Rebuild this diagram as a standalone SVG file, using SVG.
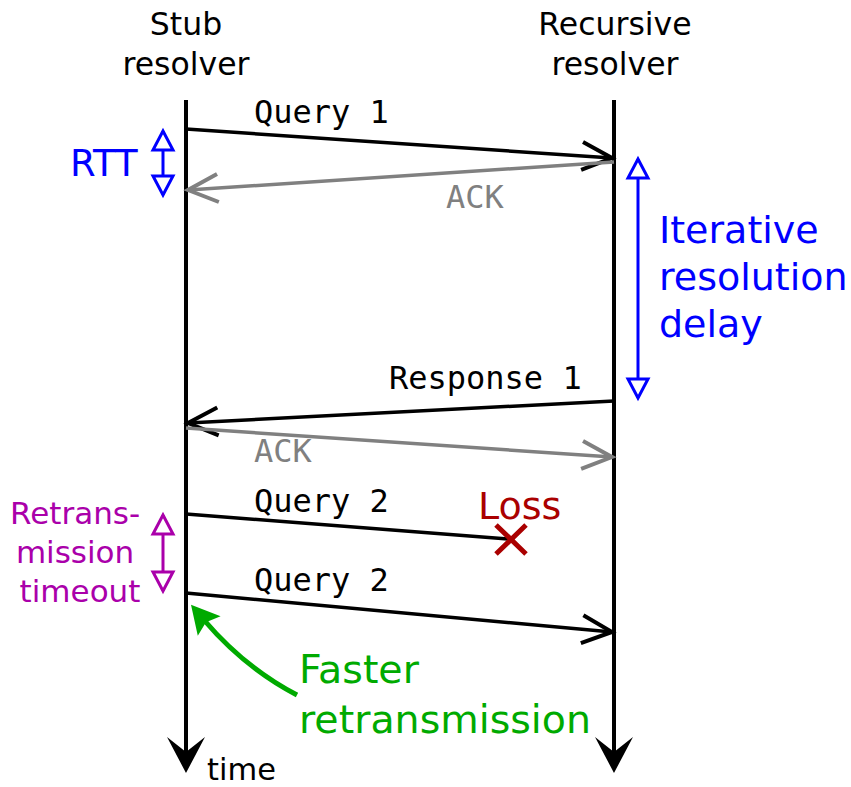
<svg xmlns="http://www.w3.org/2000/svg" width="851" height="787" viewBox="0 0 851 787">
  <style>
    .sans { font-family: "DejaVu Sans", "Liberation Sans", sans-serif; }
    .mono { font-family: "DejaVu Sans Mono", "Liberation Mono", monospace; font-size: 32px; }
    .head { font-size: 31.5px; fill: #000; text-anchor: middle; }
    .life { stroke: #000; stroke-width: 4; fill: none; }
    .msg { stroke: #000; stroke-width: 3.5; fill: none; marker-end: url(#openBlack); }
    .ack { stroke: #808080; stroke-width: 3.5; fill: none; marker-end: url(#openGrey); }
    .span { stroke-width: 3; fill: none; }
  </style>
  <defs>
    <marker id="openBlack" markerUnits="userSpaceOnUse" viewBox="-34 -18 38 36" markerWidth="38" markerHeight="36" refX="0" refY="0" orient="auto" overflow="visible">
      <path d="M-30 -14 L0 0 L-30 14" fill="none" stroke="#000" stroke-width="4"/>
    </marker>
    <marker id="openGrey" markerUnits="userSpaceOnUse" viewBox="-34 -18 38 36" markerWidth="38" markerHeight="36" refX="0" refY="0" orient="auto" overflow="visible">
      <path d="M-30 -14 L0 0 L-30 14" fill="none" stroke="#808080" stroke-width="4"/>
    </marker>
    <marker id="timeHead" markerUnits="userSpaceOnUse" viewBox="-20 -22 44 44" markerWidth="44" markerHeight="44" refX="0" refY="0" orient="auto" overflow="visible">
      <path d="M21 0 L-15 -19 L0 0 L-15 19 Z" fill="#000"/>
    </marker>
    <marker id="triBlue" markerUnits="userSpaceOnUse" viewBox="-22 -13 25 26" markerWidth="25" markerHeight="26" refX="0" refY="0" orient="auto-start-reverse" overflow="visible">
      <path d="M0 0 L-19 -10 L-19 10 Z" fill="#fff" stroke="#0000ff" stroke-width="3" stroke-linejoin="miter"/>
    </marker>
    <marker id="triPurple" markerUnits="userSpaceOnUse" viewBox="-22 -13 25 26" markerWidth="25" markerHeight="26" refX="0" refY="0" orient="auto-start-reverse" overflow="visible">
      <path d="M0 0 L-19 -10 L-19 10 Z" fill="#fff" stroke="#aa00aa" stroke-width="3" stroke-linejoin="miter"/>
    </marker>
    <marker id="greenHead" markerUnits="userSpaceOnUse" viewBox="-10 -17 32 34" markerWidth="32" markerHeight="34" refX="0" refY="0" orient="auto" overflow="visible">
      <path d="M20 0 L-8 -15 L-3 0 L-8 15 Z" fill="#00aa00"/>
    </marker>
  </defs>

  <!-- participants with their time lines -->
  <g id="stub">
    <text class="sans head" x="186" y="35">Stub</text>
    <text class="sans head" x="186" y="75">resolver</text>
    <line class="life" x1="186" y1="100" x2="186" y2="752" marker-end="url(#timeHead)"/>
    <text class="sans" x="207" y="780" font-size="30.5">time</text>
  </g>
  <g id="recursive">
    <text class="sans head" x="615" y="35">Recursive</text>
    <text class="sans head" x="615" y="75">resolver</text>
    <line class="life" x1="614" y1="100" x2="614" y2="752" marker-end="url(#timeHead)"/>
  </g>

  <!-- messages -->
  <g id="connectors">
    <line class="msg" x1="186" y1="129" x2="612" y2="158"/>
    <line class="ack" x1="614" y1="162" x2="188" y2="190"/>
    <line class="msg" x1="614" y1="401" x2="188" y2="423"/>
    <line class="ack" x1="186" y1="428" x2="612" y2="457"/>
    <line stroke="#000" stroke-width="3.5" x1="186" y1="514" x2="508" y2="539"/>
    <line class="msg" x1="186" y1="593" x2="612" y2="632"/>
  </g>

  <g id="labels">
    <text class="mono" x="254" y="123">Query 1</text>
    <text class="mono" x="446" y="208" fill="#808080">ACK</text>
    <text class="mono" x="389" y="389">Response 1</text>
    <text class="mono" x="254" y="462" fill="#808080">ACK</text>
    <text class="mono" x="254" y="512">Query 2</text>
    <text class="mono" x="254" y="591">Query 2</text>
  </g>

  <g id="loss">
    <path d="M496 525 L526 554 M526 525 L496 554" stroke="#aa0000" stroke-width="5" fill="none"/>
    <text class="sans" x="478" y="519" font-size="38" fill="#aa0000">Loss</text>
  </g>

  <g id="rtt">
    <line class="span" stroke="#0000ff" x1="163" y1="131" x2="163" y2="195" marker-start="url(#triBlue)" marker-end="url(#triBlue)"/>
    <text class="sans" x="70" y="176" font-size="37" fill="#0000ff">RTT</text>
  </g>

  <g id="iterative">
    <line class="span" stroke="#0000ff" x1="638" y1="159" x2="638" y2="398" marker-start="url(#triBlue)" marker-end="url(#triBlue)"/>
    <text class="sans" font-size="38" fill="#0000ff">
      <tspan x="659" y="243">Iterative</tspan>
      <tspan x="659" y="290">resolution</tspan>
      <tspan x="659" y="337">delay</tspan>
    </text>
  </g>

  <g id="timeout">
    <line class="span" stroke="#aa00aa" x1="163" y1="515" x2="163" y2="591" marker-start="url(#triPurple)" marker-end="url(#triPurple)"/>
    <text class="sans" font-size="31" fill="#aa00aa" text-anchor="middle">
      <tspan x="80" y="524">Retrans-</tspan>
      <tspan x="80" y="563">mission</tspan>
      <tspan x="80" y="602">timeout</tspan>
    </text>
  </g>

  <g id="faster">
    <path d="M297 695 Q245 668 204 620" stroke="#00aa00" stroke-width="5" fill="none" marker-end="url(#greenHead)"/>
    <text class="sans" font-size="39.5" fill="#00aa00">
      <tspan x="299" y="683">Faster</tspan>
      <tspan x="299" y="733">retransmission</tspan>
    </text>
  </g>
</svg>
